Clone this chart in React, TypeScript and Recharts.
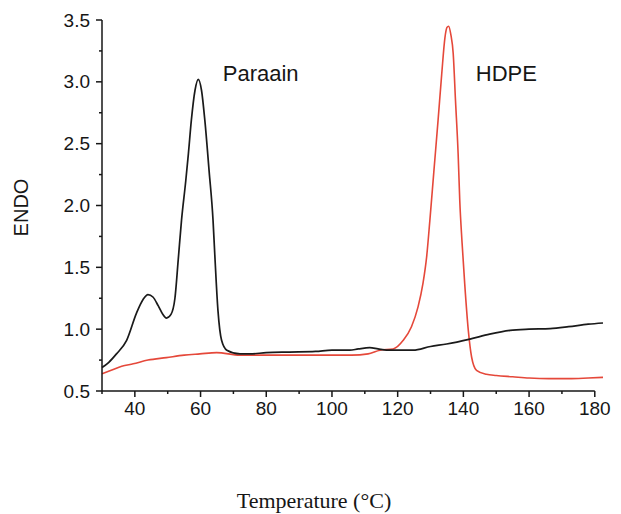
import { Label, Line, LineChart, ReferenceDot, ReferenceLine, XAxis, YAxis } from "recharts";

// paraffin trace (black)
const parTemp = [30, 32, 34.4, 37.5, 40.5, 42.5, 44, 45.5, 47.1, 48.5, 49.6, 51, 52.2, 53.2, 54.2, 55.5, 56.3, 57.2, 58.3, 59.3, 60.3, 61.3, 62.6, 63.8, 64.3, 65.3, 66.4, 68, 72, 75, 80, 87, 95, 100, 105.4, 108, 111.5, 114, 116.6, 124.7, 130, 134.9, 142, 148, 154.2, 160, 166.4, 172, 178, 182.5];
const parEndo = [0.69, 0.73, 0.80, 0.91, 1.13, 1.24, 1.28, 1.26, 1.19, 1.12, 1.09, 1.12, 1.25, 1.56, 1.88, 2.20, 2.42, 2.69, 2.93, 3.02, 2.93, 2.69, 2.28, 1.88, 1.62, 1.15, 0.91, 0.83, 0.80, 0.80, 0.81, 0.815, 0.82, 0.83, 0.83, 0.84, 0.85, 0.84, 0.83, 0.83, 0.86, 0.88, 0.92, 0.96, 0.99, 1.00, 1.005, 1.02, 1.04, 1.05];

// HDPE trace (red)
const hdpeTemp = [30, 33, 36, 39.5, 44, 49.6, 55, 59.8, 64.9, 72, 80, 87, 100, 106, 111, 114.6, 118.6, 121.7, 124.2, 126.2, 127.7, 128.8, 129.8, 131, 132.3, 133.4, 134.4, 135, 135.5, 136.2, 136.9, 137.6, 138.4, 138.9, 139.6, 140.4, 141.5, 142.5, 144, 147, 150, 155, 160, 166, 172, 178, 182.5];
const hdpeEndo = [0.64, 0.67, 0.70, 0.72, 0.75, 0.77, 0.79, 0.80, 0.81, 0.79, 0.79, 0.79, 0.79, 0.79, 0.80, 0.83, 0.84, 0.91, 1.02, 1.18, 1.37, 1.58, 1.88, 2.27, 2.69, 3.06, 3.36, 3.44, 3.45, 3.38, 3.23, 2.85, 2.42, 2.04, 1.70, 1.37, 0.99, 0.775, 0.667, 0.635, 0.625, 0.615, 0.605, 0.60, 0.60, 0.605, 0.61];

const xTicks = [30, 40, 50, 60, 70, 80, 90, 100, 110, 120, 130, 140, 150, 160, 170, 180];
const yTicks = [0.5, 0.75, 1, 1.25, 1.5, 1.75, 2, 2.25, 2.5, 2.75, 3, 3.25, 3.5];

const paraffin = parTemp.map((t, i) => ({ t, v: parEndo[i] }));
const hdpe = hdpeTemp.map((t, i) => ({ t, v: hdpeEndo[i] }));

const INK = "#161616";
const SANS = "'Liberation Sans', Arial, sans-serif";

const XTick = ({ x, y, payload }: any) => {
    const major = payload.value % 20 === 0;
    return (
        <g>
            <line x1={x} y1={y} x2={x} y2={y + (major ? 6 : 3)} stroke={INK} strokeWidth={1.5} />
            {major && (
                <text x={x} y={y + 24} textAnchor="middle" fontSize={19} fontFamily={SANS} fill={INK}>
                    {payload.value}
                </text>
            )}
        </g>
    );
};

const YTick = ({ x, y, payload }: any) => {
    const major = Math.abs(payload.value * 2 - Math.round(payload.value * 2)) < 1e-6;
    return (
        <g>
            <line x1={x} y1={y} x2={x - (major ? 6 : 3)} y2={y} stroke={INK} strokeWidth={1.5} />
            {major && (
                <text x={x - 12} y={y} dy="0.35em" textAnchor="end" fontSize={19} fontFamily={SANS} fill={INK}>
                    {payload.value.toFixed(1)}
                </text>
            )}
        </g>
    );
};

const App = () => {
    return (
        <div style={{ width: 621, height: 514 }}>
            <style>{"body{margin:0}"}</style>
            <LineChart width={621} height={514} margin={{ top: 20, right: 18, bottom: 0, left: 0 }}>
                <XAxis
                    dataKey="t"
                    type="number"
                    domain={[30, 182.5]}
                    ticks={xTicks}
                    interval={0}
                    tick={XTick}
                    tickLine={false}
                    tickSize={0}
                    tickMargin={0}
                    axisLine={false}
                    height={123}
                >
                    <Label
                        content={({ viewBox }: any) => (
                            <text
                                x={viewBox.x + 212}
                                y={viewBox.y + 117}
                                textAnchor="middle"
                                fontSize={22}
                                fontFamily="'Liberation Serif', 'Times New Roman', serif"
                                fill={INK}
                            >
                                Temperature (°C)
                            </text>
                        )}
                    />
                </XAxis>
                <YAxis
                    type="number"
                    domain={[0.5, 3.5]}
                    ticks={yTicks}
                    interval={0}
                    tick={YTick}
                    tickLine={false}
                    tickSize={0}
                    tickMargin={0}
                    axisLine={{ stroke: INK, strokeWidth: 1.5 }}
                    width={102}
                >
                    <Label
                        content={({ viewBox }: any) => {
                            const cx = 21;
                            const cy = viewBox.y + viewBox.height / 2 + 2;
                            return (
                                <text
                                    x={cx}
                                    y={cy}
                                    dy="0.35em"
                                    textAnchor="middle"
                                    transform={`rotate(-90 ${cx} ${cy})`}
                                    fontSize={20}
                                    fontFamily={SANS}
                                    fill={INK}
                                >
                                    ENDO
                                </text>
                            );
                        }}
                    />
                </YAxis>
                <ReferenceLine segment={[{ x: 30, y: 0.5 }, { x: 180, y: 0.5 }]} stroke={INK} strokeWidth={1.5} />
                <Line data={hdpe} dataKey="v" type="monotone" stroke="#e5483a" strokeWidth={1.6} dot={false} isAnimationActive={false} />
                <Line data={paraffin} dataKey="v" type="monotone" stroke="#1a1a1a" strokeWidth={1.7} dot={false} isAnimationActive={false} />
                <ReferenceDot x={78.3} y={3.07} r={0} fill="none" stroke="none"
                    label={{ value: "Paraain", position: "center", fontSize: 22, fontFamily: SANS, fill: INK }} />
                <ReferenceDot x={153.1} y={3.07} r={0} fill="none" stroke="none"
                    label={{ value: "HDPE", position: "center", fontSize: 22, fontFamily: SANS, fill: INK }} />
            </LineChart>
        </div>
    );
};

export default App;
